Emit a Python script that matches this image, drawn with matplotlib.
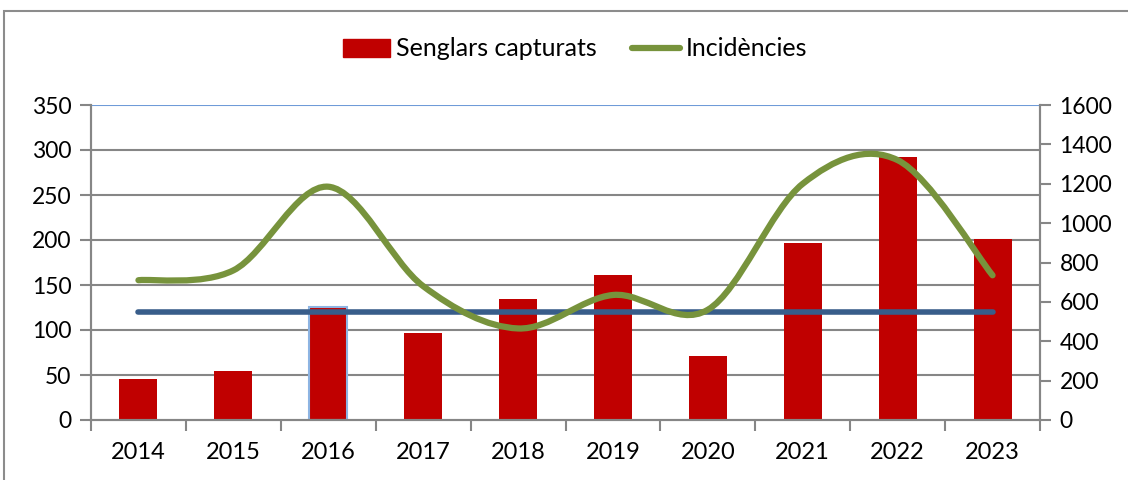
import numpy as np
import matplotlib
matplotlib.use("Agg")
import matplotlib.pyplot as plt
from matplotlib.path import Path
from matplotlib.patches import PathPatch, Rectangle
from matplotlib.lines import Line2D

plt.rcParams['font.family'] = ['Lato', 'DejaVu Sans']

#%% data
years = ['2014', '2015', '2016', '2017', '2018', '2019', '2020', '2021', '2022', '2023']
senglars = [46, 55, 126, 97, 134, 161, 71, 197, 292, 201]
incidencies = [710, 760, 1185, 680, 465, 635, 560, 1200, 1320, 735]
referencia = 120  # horizontal reference level (left axis)

#%% figure
fig = plt.figure(figsize=(11.28, 4.8), dpi=100)
ax = fig.add_axes([91/1128, 60/480, (1040-91)/1128, 315/480])
ax2 = ax.twinx()

x = np.arange(len(years))
grid_c = '#868686'

# bars
bars = ax.bar(x, senglars, width=0.4, color='#C00000', zorder=2)
bars[2].set_edgecolor('#8DB4E2')
bars[2].set_linewidth(1.5)

# reference line
ax.plot([x[0], x[-1]], [referencia, referencia], color='#385D8A', lw=4,
        solid_capstyle='round', zorder=3)

# smoothed line (Excel style bezier through the points)
p = np.column_stack([x, incidencies]).astype(float)
ext = np.vstack([p[0], p, p[-1]])
verts = [tuple(p[0])]
codes = [Path.MOVETO]
for i in range(len(p) - 1):
    c1 = ext[i+1] + (ext[i+2] - ext[i]) / 6
    c2 = ext[i+2] - (ext[i+3] - ext[i+1]) / 6
    verts += [tuple(c1), tuple(c2), tuple(p[i+1])]
    codes += [Path.CURVE4] * 3
ax2.add_patch(PathPatch(Path(verts, codes), fill=False, edgecolor='#77933C',
                        lw=4.5, capstyle='round', zorder=4))

# axes setup
ax.set_xlim(-0.5, len(years) - 0.5)
ax.set_ylim(0, 350)
ax.set_yticks(range(0, 351, 50))
ax2.set_ylim(0, 1600)
ax2.set_yticks(range(0, 1601, 200))

ax.set_xticks(x)
ax.set_xticklabels(years)
ax.set_xticks(np.arange(-0.5, len(years), 1), minor=True)
ax.tick_params(axis='x', which='major', length=0, pad=16, labelsize=17)
ax.tick_params(axis='x', which='minor', length=8, width=1.5, color=grid_c, direction='out')
ax.tick_params(axis='y', length=8, width=1.5, color=grid_c, labelsize=16.5, pad=6)
ax2.tick_params(axis='y', length=8, width=1.5, color=grid_c, labelsize=16.5, pad=6)

for yv in range(50, 350, 50):
    ax.axhline(yv, color=grid_c, lw=1.5, zorder=1)
ax.axhline(350, color='#6F9BD8', lw=1.5, zorder=1)

for a in (ax, ax2):
    a.spines['top'].set_visible(False)
    for s in ('left', 'right', 'bottom'):
        a.spines[s].set_color(grid_c)
        a.spines[s].set_linewidth(1.5)
ax2.patch.set_visible(False)

# legend
handles = [Rectangle((0, 0), 1, 1, color='#C00000'),
           Line2D([0], [0], color='#77933C', lw=4.5, solid_capstyle='round')]
fig.legend(handles, ['Senglars capturats', 'Incidències'], loc='center',
           bbox_to_anchor=(575/1128, 1 - 49/480), ncol=2, frameon=False,
           fontsize=18, handlelength=1.9, handletextpad=0.25, columnspacing=1.4)

# outer frame
fig.patches.append(Rectangle((3.5/1128, -0.05), 1.2, 1.05 - 11.5/480,
                             transform=fig.transFigure, fill=False,
                             edgecolor='#8C8C8C', lw=1.5))

fig.savefig('out.png', dpi=100)
